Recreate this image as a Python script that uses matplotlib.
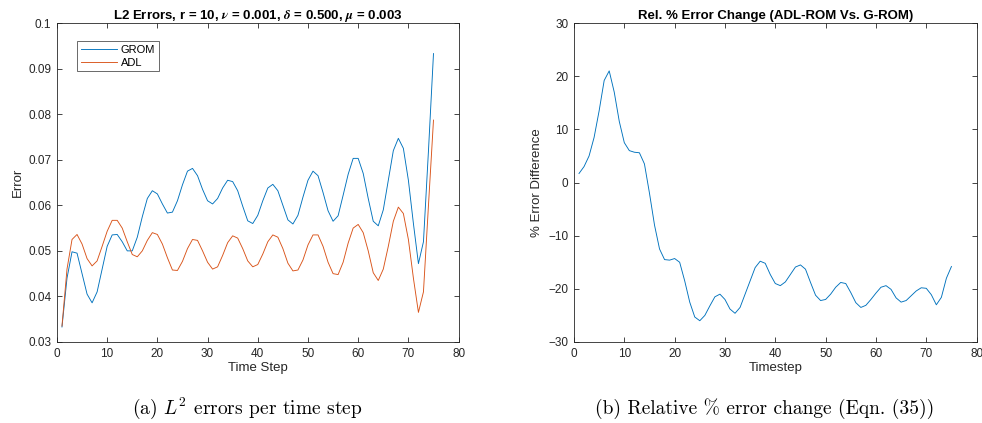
import numpy as np
import matplotlib
matplotlib.use("Agg")
import matplotlib.pyplot as plt

plt.rcParams['font.family'] = ['Liberation Sans', 'DejaVu Sans']
plt.rcParams['mathtext.fontset'] = 'cm'

# data
t = np.arange(1, 76)
grom = [0.0333, 0.0440, 0.0498, 0.0495, 0.0450, 0.0405, 0.0386, 0.0410, 0.0460, 0.0510,
        0.0535, 0.0536, 0.0520, 0.0500, 0.0500, 0.0530, 0.0575, 0.0615, 0.0632, 0.0625,
        0.0603, 0.0583, 0.0585, 0.0610, 0.0645, 0.0675, 0.0681, 0.0665, 0.0635, 0.0610,
        0.0603, 0.0615, 0.0638, 0.0655, 0.0652, 0.0632, 0.0598, 0.0566, 0.0560, 0.0578,
        0.0610, 0.0638, 0.0646, 0.0632, 0.0600, 0.0568, 0.0559, 0.0578, 0.0618, 0.0655,
        0.0675, 0.0665, 0.0628, 0.0588, 0.0565, 0.0577, 0.0622, 0.0668, 0.0703, 0.0703,
        0.0670, 0.0615, 0.0565, 0.0555, 0.0590, 0.0655, 0.0720, 0.0747, 0.0725, 0.0655,
        0.0560, 0.0472, 0.0520, 0.0720, 0.0933]
adl = [0.0335, 0.0460, 0.0525, 0.0536, 0.0515, 0.0483, 0.0467, 0.0478, 0.0510, 0.0543,
       0.0567, 0.0567, 0.0550, 0.0520, 0.0492, 0.0487, 0.0500, 0.0523, 0.0540, 0.0536,
       0.0515, 0.0485, 0.0458, 0.0457, 0.0477, 0.0505, 0.0525, 0.0523, 0.0500, 0.0475,
       0.0460, 0.0465, 0.0490, 0.0518, 0.0533, 0.0528, 0.0505, 0.0478, 0.0465, 0.0470,
       0.0493, 0.0520, 0.0535, 0.0530, 0.0505, 0.0473, 0.0456, 0.0458, 0.0480, 0.0513,
       0.0535, 0.0535, 0.0510, 0.0475, 0.0450, 0.0448, 0.0475, 0.0517, 0.0550, 0.0558,
       0.0540, 0.0500, 0.0452, 0.0435, 0.0460, 0.0510, 0.0565, 0.0596, 0.0582, 0.0525,
       0.0440, 0.0365, 0.0410, 0.0600, 0.0787]
rel_change = [1.7, 3.0, 5.0, 8.5, 13.5, 19.2, 21.0, 17.0, 11.5, 7.5,
              6.0, 5.7, 5.6, 3.5, -2.0, -8.0, -12.5, -14.5, -14.6, -14.3,
              -15.0, -18.5, -22.5, -25.3, -26.0, -25.0, -23.2, -21.5, -21.0, -22.0,
              -23.8, -24.6, -23.5, -21.0, -18.5, -16.0, -14.8, -15.2, -17.3, -19.0,
              -19.4, -18.7, -17.3, -15.9, -15.5, -16.3, -18.8, -21.2, -22.2, -22.0,
              -21.0, -19.7, -18.8, -19.0, -20.7, -22.6, -23.5, -23.1, -22.0, -20.8,
              -19.7, -19.4, -20.1, -21.7, -22.5, -22.2, -21.3, -20.4, -19.8, -19.9,
              -21.1, -23.0, -21.6, -18.0, -15.8]

txtc = '#262626'
blue = '#0072BD'
orange = '#D95319'


def matlab_style(ax):
    ax.tick_params(direction='in', top=True, right=True, labelsize=8.5,
                   colors=txtc, length=3.5, width=0.6, pad=4)
    for s in ax.spines.values():
        s.set_color(txtc)
        s.set_linewidth(0.6)


fig = plt.figure(figsize=(9.82, 4.23), dpi=100)
ax0 = fig.add_axes([0.058, 0.1915, 0.409, 0.754])
ax1 = fig.add_axes([0.5845, 0.1915, 0.410, 0.754])

ax0.plot(t, grom, color=blue, lw=0.65, label='GROM')
ax0.plot(t, adl, color=orange, lw=0.65, label='ADL')
ax0.set_xlim(0, 80)
ax0.set_ylim(0.03, 0.1)
ax0.set_yticks([0.03, 0.04, 0.05, 0.06, 0.07, 0.08, 0.09, 0.1])
ax0.set_yticklabels(['0.03', '0.04', '0.05', '0.06', '0.07', '0.08', '0.09', '0.1'])
ax0.set_xlabel('Time Step', fontsize=9.5, color=txtc, labelpad=2)
ax0.set_ylabel('Error', fontsize=9.5, color=txtc, labelpad=3)
ax0.set_title(r'L2 Errors, r = 10, $\boldsymbol{\nu}$ = 0.001, '
              r'$\boldsymbol{\delta}$ = 0.500, $\boldsymbol{\mu}$ = 0.003',
              fontsize=9.5, fontweight='bold', pad=3)
leg = ax0.legend(loc='upper left', bbox_to_anchor=(0.05, 0.944), fontsize=8,
                 fancybox=False, edgecolor=txtc, handlelength=3.25,
                 borderpad=0.35, borderaxespad=0, labelspacing=0.25,
                 handletextpad=0.35)
leg.get_frame().set_linewidth(0.6)
matlab_style(ax0)

ax1.plot(t, rel_change, color=blue, lw=0.65)
ax1.set_xlim(0, 80)
ax1.set_ylim(-30, 30)
ax1.set_yticks(np.arange(-30, 31, 10))
ax1.set_xlabel('Timestep', fontsize=9.5, color=txtc, labelpad=2)
ax1.set_ylabel('% Error Difference', fontsize=9.5, color=txtc, labelpad=4)
ax1.set_title('Rel. % Error Change (ADL-ROM Vs. G-ROM)',
              fontsize=9.5, fontweight='bold', pad=3)
matlab_style(ax1)

fig.text(0.2515, 0.021, r'(a) $L^2$ errors per time step', ha='center',
         va='baseline', fontsize=14, family='cmr10')
fig.text(0.779, 0.021, r'(b) Relative % error change (Eqn. (35))', ha='center',
         va='baseline', fontsize=14, family='cmr10')

fig.savefig('out.png', dpi=100)
